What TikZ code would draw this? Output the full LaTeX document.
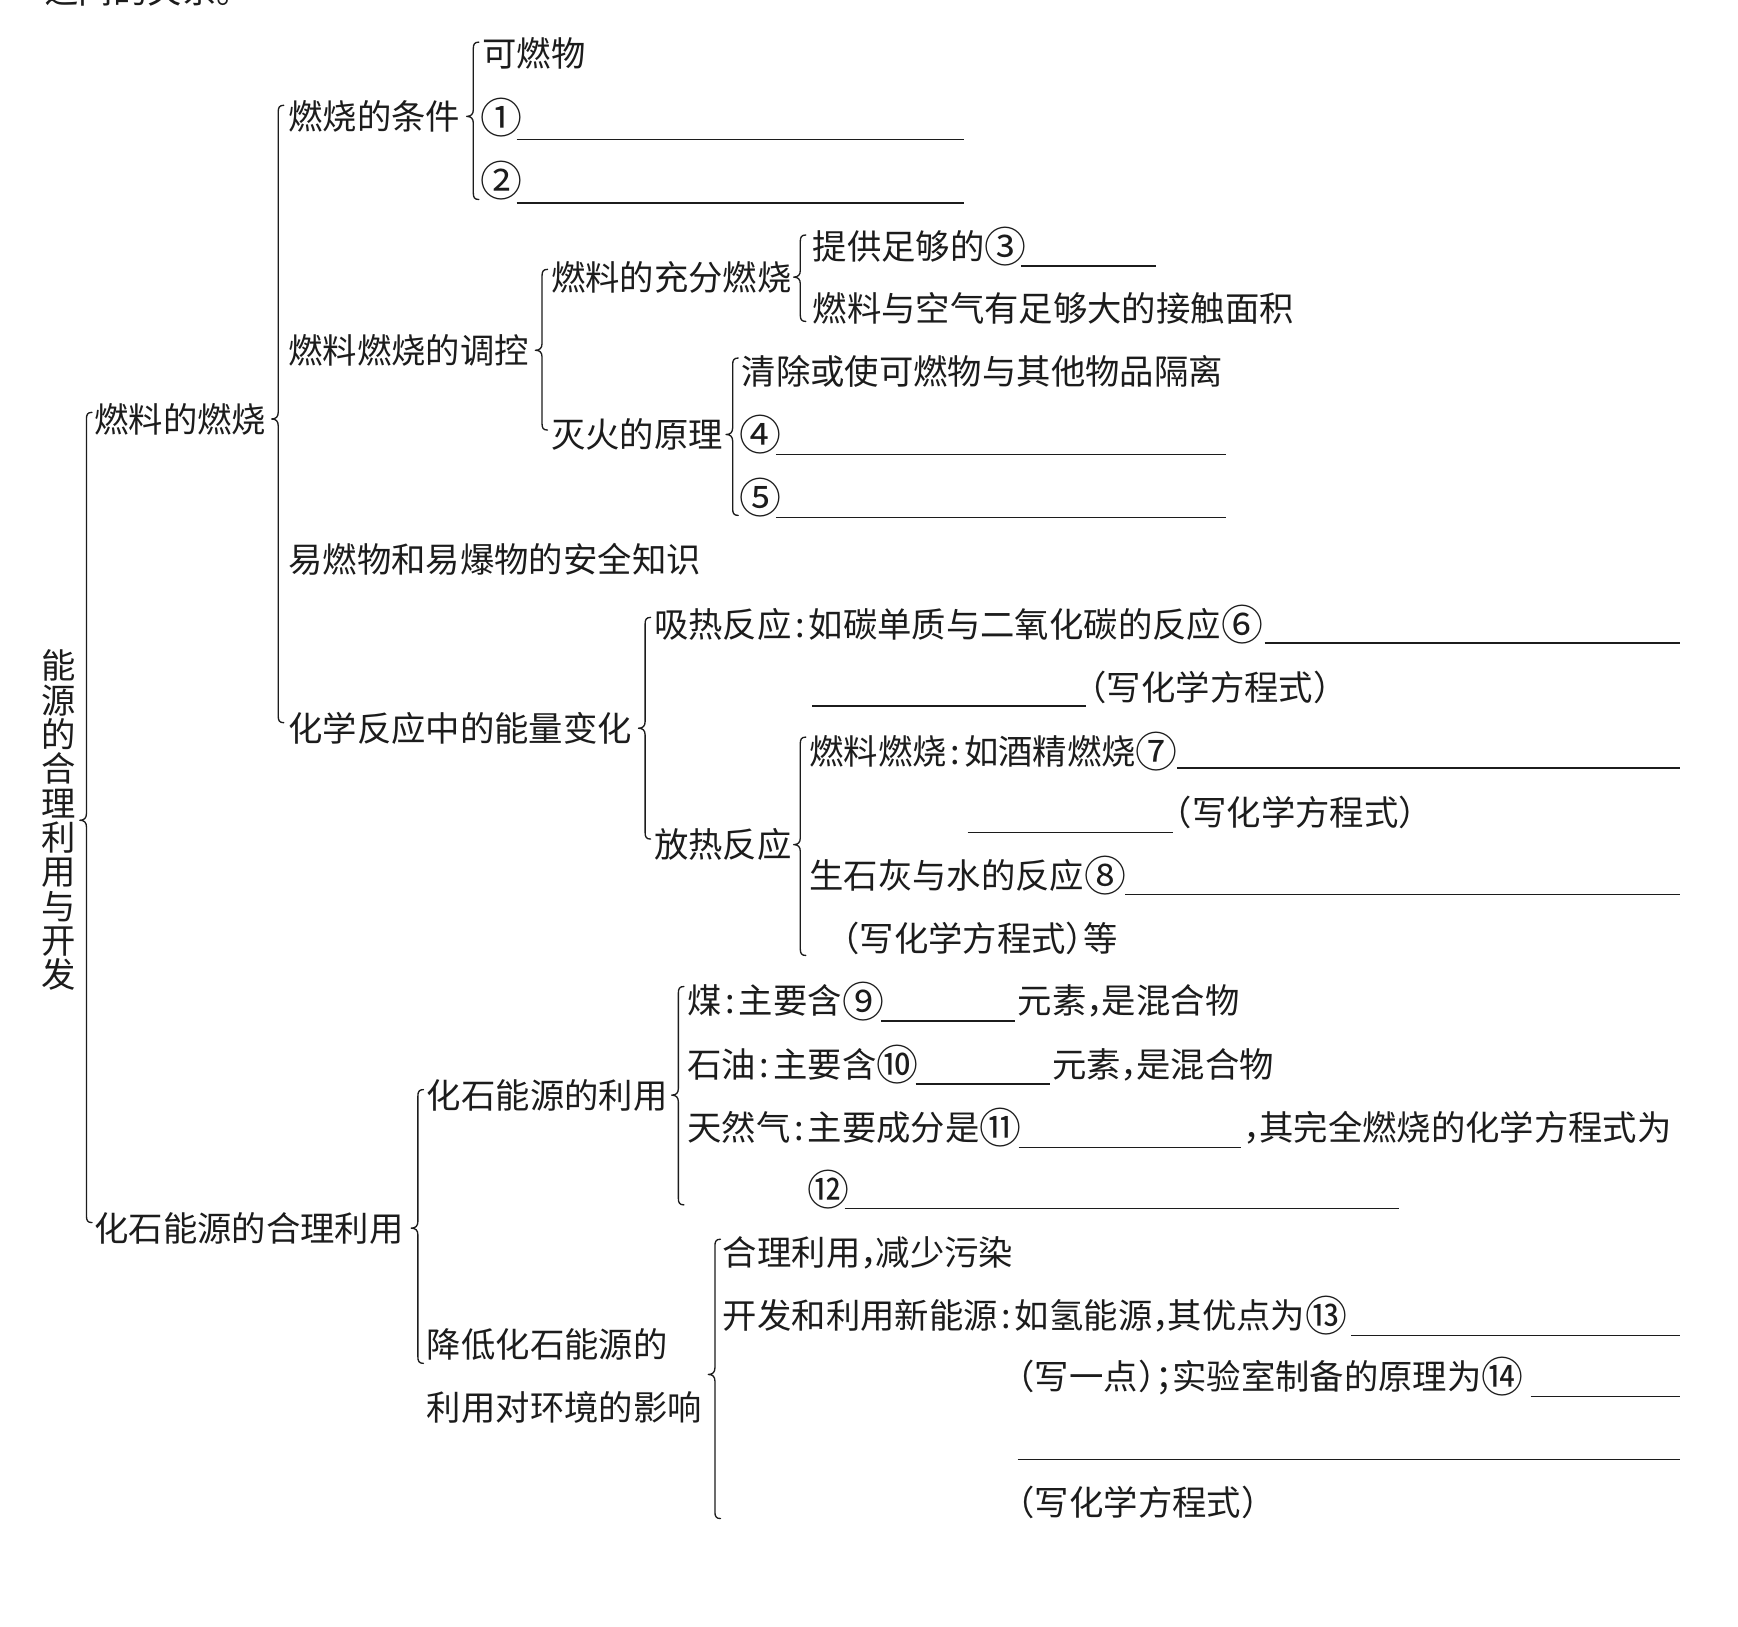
\documentclass[tikz,border=0pt]{standalone}
\usepackage{fontspec}
\usepackage{graphicx}
\setmainfont{Noto Sans CJK SC}
\definecolor{ink}{RGB}{28,28,28}
\newcommand\hcolon{\makebox[0.5em][c]{:}}
\newcommand\hcomma{\makebox[0.45em][l]{，}}
\newcommand\hsemi{\makebox[0.5em][l]{；}}
\newcommand\lpar{\makebox[0.5em][r]{（}}
\newcommand\rpar{\makebox[0.5em][l]{）}}
\newcommand\cn[1]{\raisebox{-0.09em}{\scalebox{1.22}{#1}}}
\newcommand\mybrace[4]{%
  \draw[brc] (#1+5,#2) .. controls (#1+1,#2) and (#1,#2+2) .. (#1,#2+6)
    -- (#1,#3-6) .. controls (#1,#3-2) and (#1-2,#3) .. (#1-6,#3)
    .. controls (#1-2,#3) and (#1,#3+2) .. (#1,#3+6)
    -- (#1,#4-6) .. controls (#1,#4-2) and (#1+1,#4) .. (#1+5,#4);}
\newcommand\blank[3]{\draw[blankline] (#1,#3) -- (#2,#3);}
\tikzset{
  txt/.style={anchor=west, inner sep=0pt, text height=0.88em, text depth=0.12em,
    font=\fontsize{31}{37}\selectfont, text=ink, yshift=-8pt},
  brc/.style={draw=ink, line width=1.2pt, line join=round, line cap=round},
  blankline/.style={draw=ink, line width=1.2pt}
}
\begin{document}
\begin{tikzpicture}[x=1pt,y=-1pt]
\useasboundingbox[fill=white] (0,0) rectangle (1568,1467);
% cut-off heading
\node[anchor=base west, inner sep=0pt, font=\fontsize{31}{37}\selectfont, text=ink] (head) at (40,3) {之间的关系。};
% title
\node[anchor=center, inner sep=0pt, align=center, text=ink,
  font=\fontsize{31}{31}\selectfont] (title) at (53,740)
  {能\\源\\的\\合\\理\\利\\用\\与\\开\\发};
\mybrace{78}{372}{740}{1103}
% level 1
\node[txt] (l1a) at (85,378) {燃料的燃烧};
\node[txt] (l1b) at (85,1108) {化石能源的合理利用};
\mybrace{251}{95}{378}{652}
\node[txt] (cond) at (260,105) {燃烧的条件};
\node[txt] (ctrl) at (260,316) {燃料燃烧的调控};
\node[txt] (safe) at (260,505) {易燃物和易爆物的安全知识};
\node[txt] (energy) at (260,657) {化学反应中的能量变化};
% conditions
\mybrace{427}{38}{105}{180}
\node[txt] (c0) at (435,48) {可燃物};
\node[txt] (c1) at (433,106) {\cn{①}};
\blank{466}{870}{126}
\node[txt] (c2) at (433,163) {\cn{②}};
\blank{466}{870}{183}
% control
\mybrace{489}{243}{316}{388}
\node[txt] (full) at (497,250) {燃料的充分燃烧};
\node[txt] (ext) at (497,392) {灭火的原理};
\mybrace{722}{212}{250}{290}
\node[txt] (f1) at (733,222) {提供足够的\cn{③}};
\blank{921}{1043}{240}
\node[txt] (f2) at (733,278) {燃料与空气有足够大的接触面积};
\mybrace{661}{323}{392}{465}
\node[txt] (e1) at (669,335) {清除或使可燃物与其他物品隔离};
\node[txt] (e2) at (667,392) {\cn{④}};
\blank{700}{1106}{410}
\node[txt] (e3) at (667,449) {\cn{⑤}};
\blank{700}{1106}{467}
% energy change
\mybrace{582}{557}{657}{757}
\node[txt] (endo) at (590,563) {吸热反应\hcolon 如碳单质与二氧化碳的反应\cn{⑥}};
\blank{1141}{1516}{580}
\blank{733}{980}{637}
\node[txt] (endo2) at (983,620) {\lpar 写化学方程式\rpar};
\node[txt] (exo) at (590,762) {放热反应};
\mybrace{722}{665}{762}{862}
\node[txt] (x1) at (730,678) {燃料燃烧\hcolon 如酒精燃烧\cn{⑦}};
\blank{1062}{1516}{693}
\blank{873}{1058}{751}
\node[txt] (x1b) at (1060,733) {\lpar 写化学方程式\rpar};
\node[txt] (x2) at (730,790) {生石灰与水的反应\cn{⑧}};
\blank{1015}{1516}{807}
\node[txt] (x2b) at (760,847) {\lpar 写化学方程式\rpar 等};
% fossil
\mybrace{377}{983}{1108}{1230}
\node[txt] (use) at (385,988) {化石能源的利用};
\node[txt] (red1) at (385,1213) {降低化石能源的};
\node[txt] (red2) at (385,1270) {利用对环境的影响};
\mybrace{612}{890}{988}{1087}
\node[txt] (coal) at (620,903) {煤\hcolon 主要含\cn{⑨}};
\blank{795}{916}{921}
\node[txt] (coal2) at (918,903) {元素\hcomma 是混合物};
\node[txt] (oil) at (620,960) {石油\hcolon 主要含\cn{⑩}};
\blank{826}{947}{978}
\node[txt] (oil2) at (949,960) {元素\hcomma 是混合物};
\node[txt] (gas) at (620,1017) {天然气\hcolon 主要成分是\cn{⑪}};
\blank{919}{1120}{1035}
\node[txt] (gas2) at (1122,1017) {\hcomma 其完全燃烧的化学方程式为};
\node[txt] (gas3) at (728,1073) {\cn{⑫}};
\blank{762}{1262}{1090}
\mybrace{645}{1118}{1240}{1370}
\node[txt] (k1) at (652,1130) {合理利用\hcomma 减少污染};
\node[txt] (k2) at (652,1187) {开发和利用新能源\hcolon 如氢能源\hcomma 其优点为\cn{⑬}};
\blank{1219}{1516}{1205}
\node[txt] (k3) at (918,1242) {\lpar 写一点\rpar\hsemi 实验室制备的原理为\cn{⑭}};
\blank{1381}{1516}{1260}
\blank{918}{1516}{1317}
\node[txt] (k4) at (918,1355) {\lpar 写化学方程式\rpar};
\end{tikzpicture}
\end{document}
